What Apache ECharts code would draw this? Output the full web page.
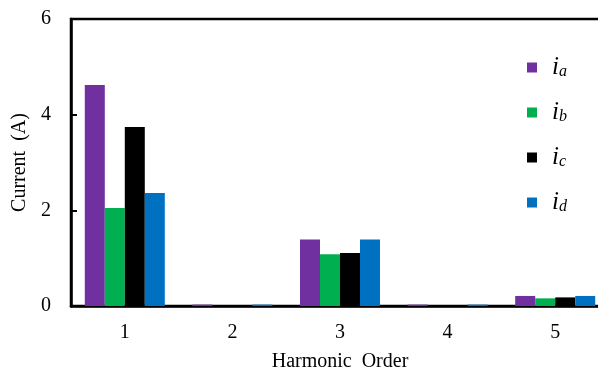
<!DOCTYPE html>
<html>
<head>
<meta charset="utf-8">
<script src="https://cdn.jsdelivr.net/npm/echarts@6/dist/echarts.min.js"></script>
<style>
  html, body { margin: 0; padding: 0; background: #fff; }
  #chart { width: 598px; height: 373px; }
</style>
</head>
<body>
<div id="chart"></div>
<script>
// Harmonic orders on the x axis
const categories = ['1', '2', '3', '4', '5'];

// Phase currents (A) per harmonic order
const seriesNames = ['ia', 'ib', 'ic', 'id'];
const ia = [4.62, 0.03, 1.39, 0.03, 0.21];
const ib = [2.05, 0.00, 1.08, 0.00, 0.16];
const ic = [3.74, 0.02, 1.11, 0.02, 0.18];
const id = [2.36, 0.03, 1.39, 0.03, 0.21];
const seriesData = [ia, ib, ic, id];
const colors = ['#7030A0', '#00B050', '#000000', '#0070C0'];

const yTicks = { min: 0, max: 6, interval: 2 };

const serif = '"Liberation Serif", "DejaVu Serif", serif';

const chart = echarts.init(document.getElementById('chart'), null, { renderer: 'canvas' });

chart.setOption({
  animation: false,
  backgroundColor: '#ffffff',
  grid: {
    left: 71, top: 19, width: 538, height: 287,
    containLabel: false,
    outerBoundsMode: 'none',
    show: true, borderColor: '#000', borderWidth: 2.5
  },
  legend: {
    orient: 'vertical',
    left: 522,
    top: 50,
    itemWidth: 10,
    itemHeight: 10,
    itemGap: 20,
    icon: 'rect',
    data: seriesNames,
    formatter: function (name) {
      return '{i|i}{s|' + name.slice(1) + '}';
    },
    textStyle: {
      rich: {
        i: { fontFamily: serif, fontStyle: 'italic', fontSize: 25, color: '#000', padding: [0, 0, 0, 10] },
        s: { fontFamily: serif, fontStyle: 'italic', fontSize: 16, color: '#000', verticalAlign: 'bottom', padding: [6, 0, 0, 0] }
      }
    }
  },
  xAxis: {
    type: 'category',
    data: categories,
    name: 'Harmonic  Order',
    nameLocation: 'middle',
    nameGap: 46,
    nameTextStyle: { fontFamily: serif, fontSize: 20, color: '#000' },
    axisLine: { lineStyle: { color: '#000', width: 2.5 } },
    axisTick: { inside: true, length: 6, lineStyle: { color: '#000', width: 2 } },
    axisLabel: { fontFamily: serif, fontSize: 20, color: '#000', margin: 17 },
    splitLine: { show: false }
  },
  yAxis: {
    type: 'value',
    min: yTicks.min,
    max: yTicks.max,
    interval: yTicks.interval,
    name: 'Current  (A)',
    nameLocation: 'middle',
    nameGap: 40,
    nameTextStyle: { fontFamily: serif, fontSize: 20, color: '#000' },
    axisLine: { show: true, lineStyle: { color: '#000', width: 2.5 } },
    axisTick: { show: true, inside: true, length: 6, lineStyle: { color: '#000', width: 2 } },
    axisLabel: { fontFamily: serif, fontSize: 20, color: '#000', margin: 20 },
    splitLine: { show: false }
  },
  series: seriesNames.map(function (name, k) {
    return {
      name: name,
      type: 'bar',
      data: seriesData[k],
      barWidth: 20,
      barGap: '0%',
      itemStyle: { color: colors[k] }
    };
  })
});
</script>
</body>
</html>
